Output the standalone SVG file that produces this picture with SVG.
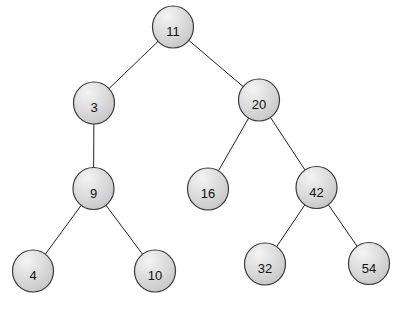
<svg xmlns="http://www.w3.org/2000/svg" width="403" height="312" viewBox="0 0 403 312">
<style>
.n ellipse{fill:url(#g);stroke:#3a3a3a;stroke-width:1.2}
.n text{font-family:"Liberation Sans",Arial,sans-serif;font-size:13px;fill:#111;text-anchor:middle}
#edges line{stroke:#222;stroke-width:1}
</style>
<defs>
<radialGradient id="g" cx="0.35" cy="0.25" r="0.85">
<stop offset="0" stop-color="#f4f4f4"/>
<stop offset="1" stop-color="#c4c4c4"/>
</radialGradient>
</defs>
<rect width="403" height="312" fill="#fff"/>
<g id="edges">
<line x1="173" y1="27" x2="94" y2="103"/>
<line x1="173" y1="27" x2="259" y2="100"/>
<line x1="94" y1="103" x2="93.5" y2="188.5"/>
<line x1="93.5" y1="188.5" x2="33" y2="271"/>
<line x1="93.5" y1="188.5" x2="155" y2="271"/>
<line x1="259" y1="100" x2="208" y2="189"/>
<line x1="259" y1="100" x2="316.5" y2="187.5"/>
<line x1="316.5" y1="187.5" x2="265" y2="264"/>
<line x1="316.5" y1="187.5" x2="369" y2="263.5"/>
</g>
<g id="n11" class="n"><ellipse cx="173" cy="27" rx="20.5" ry="21"/><text x="173" y="36">11</text></g>
<g id="n3" class="n"><ellipse cx="94" cy="103" rx="20.5" ry="21"/><text x="94" y="112">3</text></g>
<g id="n20" class="n"><ellipse cx="259" cy="100" rx="20.5" ry="21"/><text x="259" y="109">20</text></g>
<g id="n9" class="n"><ellipse cx="93.5" cy="188.5" rx="20.5" ry="21"/><text x="93.5" y="197.5">9</text></g>
<g id="n16" class="n"><ellipse cx="208" cy="189" rx="20.5" ry="21"/><text x="208" y="198">16</text></g>
<g id="n42" class="n"><ellipse cx="316.5" cy="187.5" rx="20.5" ry="21"/><text x="316.5" y="196.5">42</text></g>
<g id="n4" class="n"><ellipse cx="33" cy="271" rx="20.5" ry="21"/><text x="33" y="280">4</text></g>
<g id="n10" class="n"><ellipse cx="155" cy="271" rx="20.5" ry="21"/><text x="155" y="280">10</text></g>
<g id="n32" class="n"><ellipse cx="265" cy="264" rx="20.5" ry="21"/><text x="265" y="273">32</text></g>
<g id="n54" class="n"><ellipse cx="369" cy="263.5" rx="20.5" ry="21"/><text x="369" y="272.5">54</text></g>
</svg>
